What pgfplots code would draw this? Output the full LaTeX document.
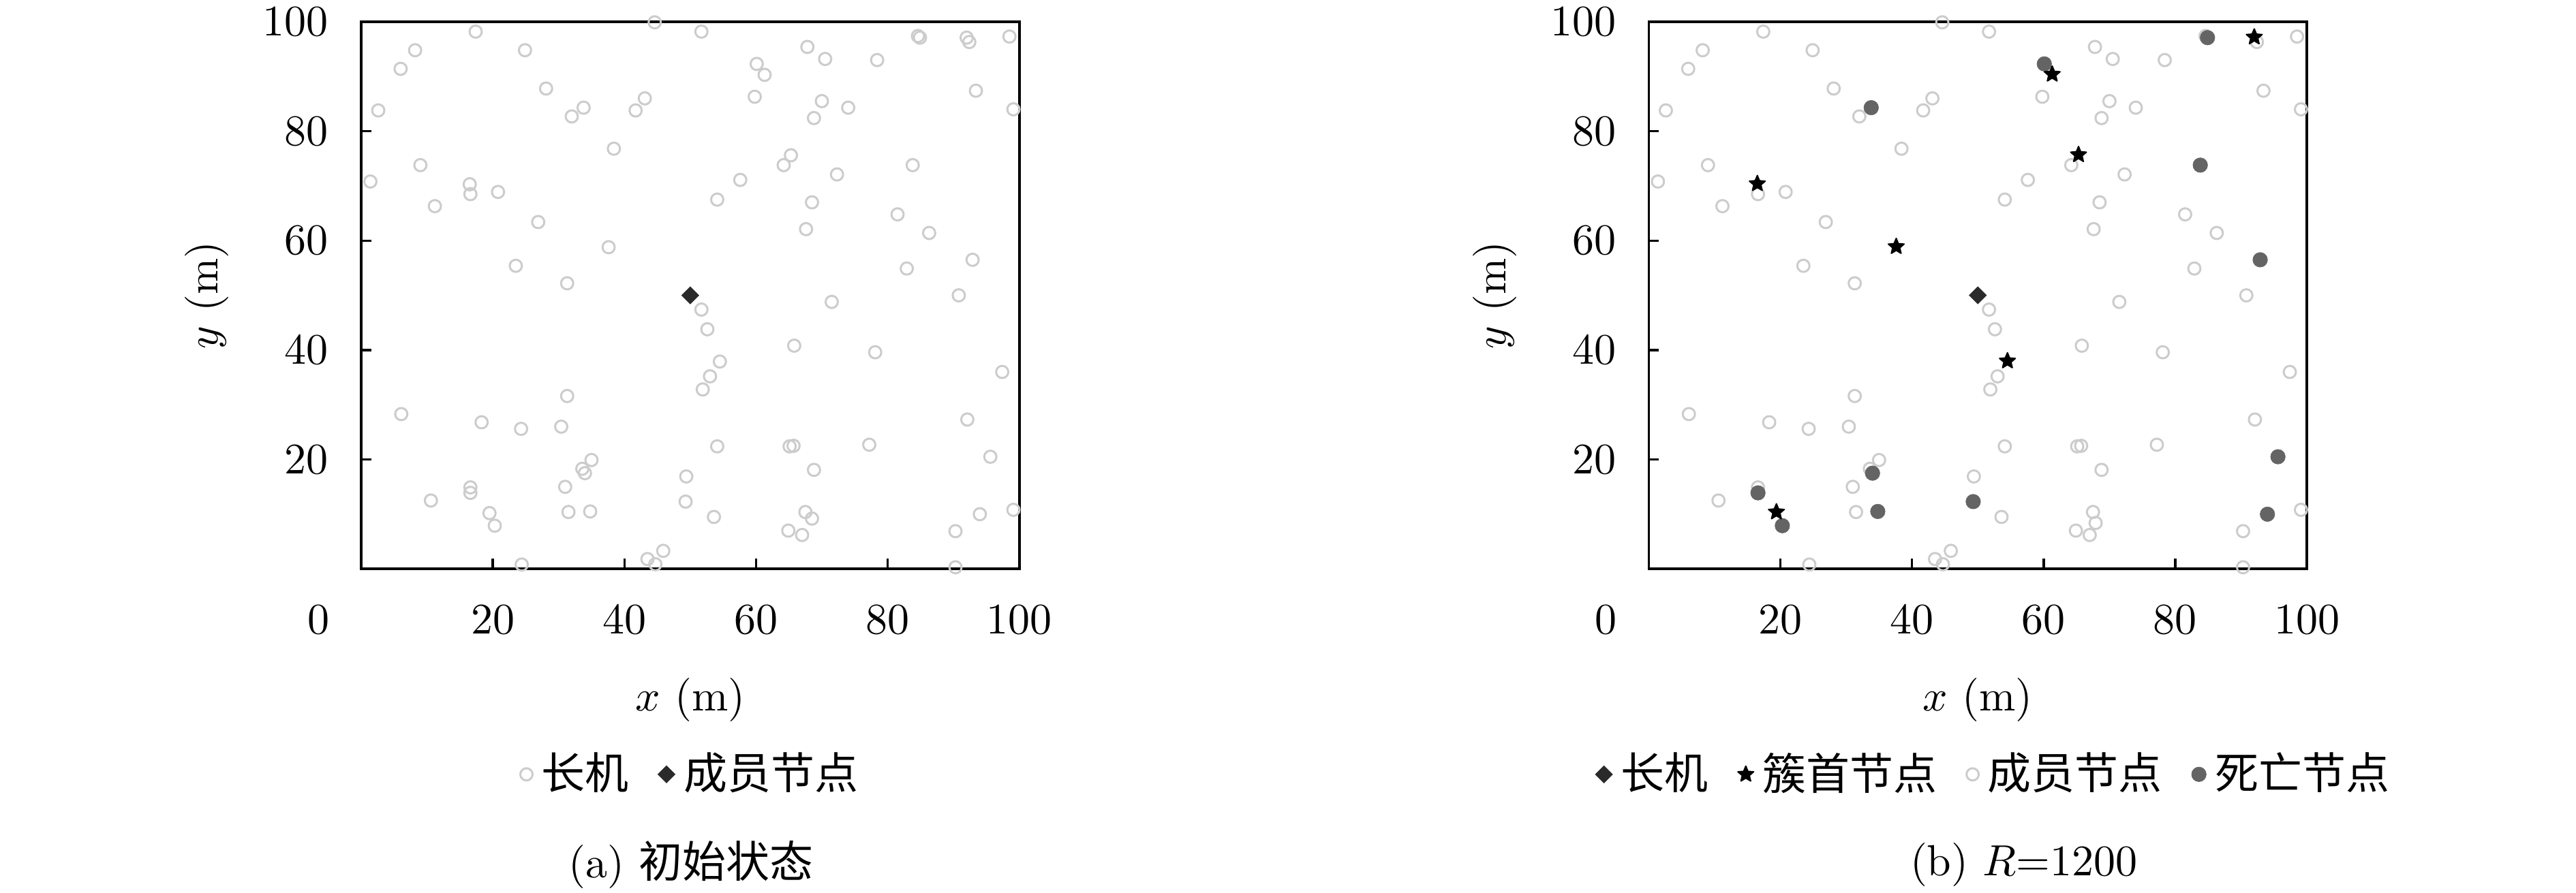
\documentclass[border=0pt]{standalone}
\usepackage{fontspec}
\usepackage{pgfplots}
\pgfplotsset{compat=1.18}
\newfontfamily\cjk{Noto Sans CJK SC}
\definecolor{memgray}{RGB}{204,204,204}
\definecolor{leadc}{RGB}{42,42,42}
\definecolor{deadc}{RGB}{100,100,100}
\pgfdeclareplotmark{fstar}{%
  \pgfpathmoveto{\pgfqpointpolar{90}{\pgfplotmarksize}}%
  \pgfpathlineto{\pgfqpointpolar{126}{0.45\pgfplotmarksize}}%
  \pgfpathlineto{\pgfqpointpolar{162}{\pgfplotmarksize}}%
  \pgfpathlineto{\pgfqpointpolar{198}{0.45\pgfplotmarksize}}%
  \pgfpathlineto{\pgfqpointpolar{234}{\pgfplotmarksize}}%
  \pgfpathlineto{\pgfqpointpolar{270}{0.45\pgfplotmarksize}}%
  \pgfpathlineto{\pgfqpointpolar{306}{\pgfplotmarksize}}%
  \pgfpathlineto{\pgfqpointpolar{342}{0.45\pgfplotmarksize}}%
  \pgfpathlineto{\pgfqpointpolar{18}{\pgfplotmarksize}}%
  \pgfpathlineto{\pgfqpointpolar{54}{0.45\pgfplotmarksize}}%
  \pgfpathclose\pgfusepathqfillstroke}
\pgfplotsset{
  panel/.style={
    scale only axis, width=150.9pt, height=125.5pt,
    xmin=0, xmax=100, ymin=0, ymax=100,
    xtick={20,40,60,80,100}, ytick={20,40,60,80,100},
    extra x ticks={0}, extra x tick labels={$0$},
    extra x tick style={major tick length=0pt, tick label style={xshift=-9.8pt}},
    tick pos=left, tick align=inside, major tick length=2.3pt,
    every tick/.style={black, line width=0.55pt},
    axis line style={line width=0.55pt},
    xticklabel shift=4.9pt, yticklabel shift=4pt,
    xlabel={$x$ (m)}, ylabel={$y$ (m)},
    xlabel style={at={(axis description cs:0.5,-0.239)}, anchor=center},
    ylabel style={at={(axis description cs:-0.234,0.5)}, anchor=center},
    clip=false,
    legend columns=-1,
    legend style={draw=none, fill=none, anchor=center, font=\cjk,
      /tikz/every even column/.append style={column sep=4.8pt}},
    legend image code/.code={\draw[mark repeat=2,mark phase=2,##1] plot coordinates {(0cm,0cm) (0.05cm,0cm) (0.1cm,0cm)};},
  },
  memst/.style={only marks, mark=o, color=memgray, mark size=1.4pt, mark options={line width=0.47pt, solid}},
  leadst/.style={only marks, mark=square*, color=leadc, mark size=1.35pt, mark options={rotate=45, fill=leadc, draw=leadc, line width=0.2pt}},
  starst/.style={only marks, mark=fstar, color=black, mark size=1.9pt, mark options={fill=black, draw=black, line width=0.3pt, line join=round}},
  deadst/.style={only marks, mark=*, color=deadc, mark size=1.68pt, mark options={fill=deadc, draw=deadc, line width=0.1pt}},
}
\begin{document}
\begin{tikzpicture}
\useasboundingbox (-82.8pt,-74.3pt) rectangle (507.8pt,130.5pt);
% ---------------- (a)
\begin{axis}[panel, at={(0pt,0pt)}, anchor=south west,
  legend style={at={(axis description cs:0.505,-0.3755)}}]
\addplot[memst] coordinates {
(17.4,98.2) (8.2,94.8) (6.0,91.4) (24.9,94.8) (44.6,99.9) (51.7,98.2) (28.1,87.8) (2.6,83.8)
(32.0,82.7) (33.8,84.3) (41.7,83.8) (43.1,86.0) (38.4,76.8) (9.0,73.8) (1.4,70.8) (16.5,70.3)
(16.6,68.5) (20.8,68.9) (11.2,66.3) (26.9,63.4) (37.6,58.8) (23.5,55.4) (31.3,52.2)
(67.8,95.4) (70.5,93.2) (78.4,93.0) (84.6,97.4) (84.9,97.1) (92.0,97.1) (92.4,96.3) (98.5,97.3)
(60.1,92.3) (61.3,90.3) (59.8,86.3) (70.0,85.5) (68.8,82.4) (74.0,84.3) (93.4,87.4) (99.1,84.0)
(65.3,75.6) (64.2,73.8) (57.6,71.1) (54.1,67.5) (72.3,72.1) (83.8,73.8) (68.5,67.0) (67.6,62.1)
(81.5,64.8) (86.3,61.4) (92.9,56.5) (82.9,54.9) (71.5,48.8) (90.8,50.0)
(51.7,47.4) (52.6,43.8) (54.5,37.9) (53.0,35.2) (51.9,32.8) (6.1,28.3) (31.3,31.6) (18.3,26.8)
(24.3,25.6) (30.4,26.0) (35.0,19.9) (33.6,18.3) (34.0,17.5) (49.4,16.9) (31.0,15.0) (16.6,14.9)
(16.6,13.9) (10.6,12.5) (49.3,12.3) (19.5,10.2) (20.3,7.9) (31.5,10.4) (34.8,10.5) (45.9,3.3)
(43.5,1.8) (44.7,0.85) (24.4,0.8) (53.6,9.5)
(65.8,40.8) (78.1,39.6) (97.4,36.0) (92.1,27.3) (54.1,22.4) (65.1,22.4) (65.7,22.5) (77.2,22.7)
(68.8,18.1) (95.6,20.5) (67.5,10.4) (68.5,9.2) (64.9,7.0) (67.0,6.2) (94.0,10.0) (99.1,10.8)
(90.3,6.9) (90.3,0.3)
};
\addlegendentry{长机}
\addplot[leadst] coordinates {(50.0,50.0)};
\addlegendentry{成员节点}
\node[anchor=center] at (axis description cs:0.501,-0.541) {(a) {\cjk 初始状态}};
\end{axis}
% ---------------- (b)
\begin{axis}[panel, at={(295.2pt,0pt)}, anchor=south west,
  legend style={at={(axis description cs:0.529,-0.3755)}}]
\addlegendimage{leadst}\addlegendentry{长机}
\addlegendimage{starst}\addlegendentry{簇首节点}
\addlegendimage{memst}\addlegendentry{成员节点}
\addlegendimage{deadst}\addlegendentry{死亡节点}
\addplot[memst, forget plot] coordinates {
(17.4,98.2) (8.2,94.8) (6.0,91.4) (24.9,94.8) (44.6,99.9) (51.7,98.2) (28.1,87.8) (2.6,83.8)
(32.0,82.7) (41.7,83.8) (43.1,86.0) (38.4,76.8) (9.0,73.8) (1.4,70.8) (16.6,68.5) (20.8,68.9)
(11.2,66.3) (26.9,63.4) (23.5,55.4) (31.3,52.2)
(67.8,95.4) (70.5,93.2) (78.4,93.0) (84.6,97.4) (92.4,96.3) (98.5,97.3) (59.8,86.3) (70.0,85.5)
(68.8,82.4) (74.0,84.3) (93.4,87.4) (99.1,84.0) (64.2,73.8) (57.6,71.1) (54.1,67.5) (72.3,72.1)
(68.5,67.0) (67.6,62.1) (81.5,64.8) (86.3,61.4) (82.9,54.9) (71.5,48.8) (90.8,50.0)
(51.7,47.4) (52.6,43.8) (53.0,35.2) (51.9,32.8) (6.1,28.3) (31.3,31.6) (18.3,26.8) (24.3,25.6)
(30.4,26.0) (35.0,19.9) (33.6,18.3) (49.4,16.9) (31.0,15.0) (16.6,14.9) (10.6,12.5) (31.5,10.4)
(45.9,3.3) (43.5,1.8) (44.7,0.85) (24.4,0.8) (53.6,9.5)
(65.8,40.8) (78.1,39.6) (97.4,36.0) (92.1,27.3) (54.1,22.4) (65.1,22.4) (65.7,22.5) (77.2,22.7)
(68.8,18.1) (67.5,10.4) (67.9,8.4) (64.9,7.0) (67.0,6.2) (99.1,10.8) (90.3,6.9) (90.3,0.3)
};
\addplot[deadst, forget plot] coordinates {
(33.8,84.3) (84.9,97.1) (60.1,92.3) (83.8,73.8) (92.9,56.5) (16.6,13.9)
(34.0,17.5) (34.8,10.5) (49.3,12.3) (20.3,7.9) (95.6,20.5) (94.0,10.0)
};
\addplot[starst, forget plot] coordinates {
(16.5,70.4) (37.6,58.9) (92.0,97.2) (61.3,90.4) (65.3,75.7) (19.4,10.4) (54.5,38.0)
};
\addplot[leadst, forget plot] coordinates {(50.0,50.0)};
\node[anchor=center] at (axis description cs:0.570,-0.541) {(b) $R$=1200};
\end{axis}
\end{tikzpicture}
\end{document}
